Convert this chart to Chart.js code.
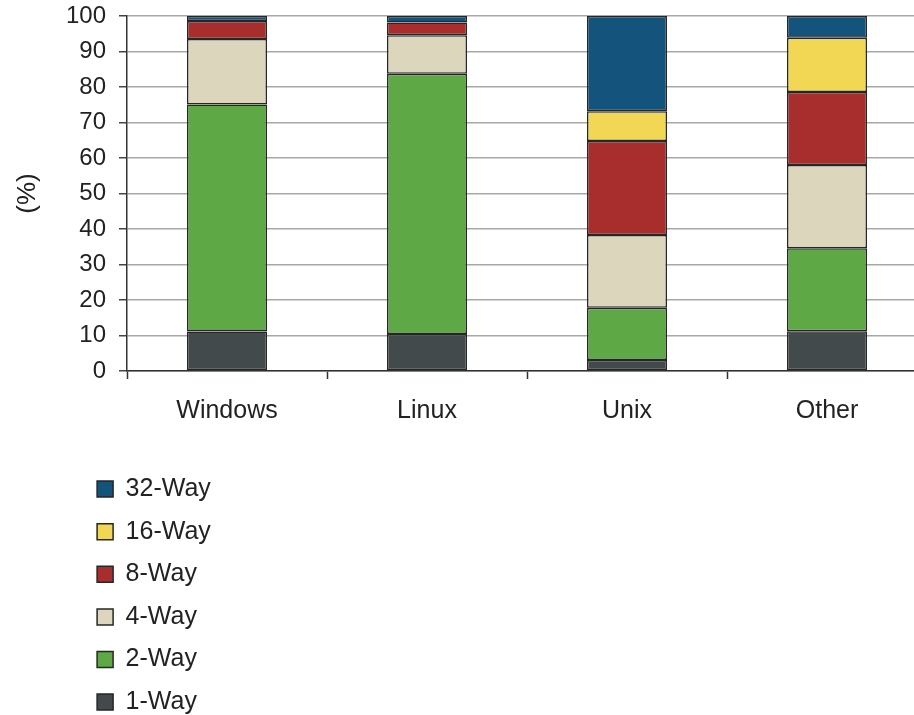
<!DOCTYPE html>
<html>
<head>
<meta charset="utf-8">
<script src="https://cdn.jsdelivr.net/npm/chart.js@4"></script>
<style>
  html, body { margin: 0; padding: 0; background: #fff; overflow: hidden; }
  #wrap { width: 914px; height: 715px; overflow: hidden; position: relative; }
  #mainChart { position: absolute; left: 0; top: 0; }
  #legendChart { position: absolute; left: 0; top: 450px; }
</style>
</head>
<body>
<div id="wrap">
  <canvas id="mainChart" width="940" height="450"></canvas>
  <canvas id="legendChart" width="914" height="290"></canvas>
</div>
<script>
// categories and series (% share)
var categories = ["Windows", "Linux", "Unix", "Other"];
var oneWay = [11.1, 10.4, 3.1, 11.2];
var twoWay = [64.0, 73.3, 14.7, 23.4];
var fourWay = [18.4, 10.9, 20.5, 23.4];
var eightWay = [5.1, 3.6, 26.5, 20.6];
var sixteenWay = [0, 0, 8.4, 15.3];
var thirtyTwoWay = [1.4, 1.8, 26.8, 6.1];
var seriesNames = ["1-Way", "2-Way", "4-Way", "8-Way", "16-Way", "32-Way"];
var yTicks = [0, 10, 20, 30, 40, 50, 60, 70, 80, 90, 100];

var seriesData = [oneWay, twoWay, fourWay, eightWay, sixteenWay, thirtyTwoWay];
var seriesColors = ['#434a4c', '#5ea846', '#dcd6bc', '#a82d2d', '#f2d754', '#13537c'];

Chart.defaults.font.family = "'Liberation Sans', Arial, sans-serif";
Chart.defaults.color = '#222';

function makeDatasets(withData) {
    return seriesNames.map(function (name, i) {
        return {
            label: name,
            data: withData ? seriesData[i] : [],
            backgroundColor: seriesColors[i],
            borderColor: '#262626',
            borderWidth: 1.5,
            borderSkipped: false,
            barPercentage: 0.4,
            categoryPercentage: 1.0
        };
    });
}

var mainChart = document.getElementById('mainChart');

new Chart(mainChart, {
    type: 'bar',
    data: {
        labels: categories,
        datasets: makeDatasets(true)
    },
    options: {
        responsive: false,
        animation: false,
        layout: { padding: { left: 0, top: 16, right: 13, bottom: 0 } },
        plugins: {
            legend: { display: false },
            tooltip: { enabled: false }
        },
        scales: {
            x: {
                stacked: true,
                offset: true,
                grid: {
                    display: true,
                    offset: true,
                    drawOnChartArea: false,
                    drawTicks: true,
                    tickLength: 8,
                    tickColor: '#333',
                    tickWidth: 1.5
                },
                border: { display: true, color: '#333', width: 1.5 },
                ticks: { font: { size: 25 }, color: '#222', padding: 17 },
                afterFit: function (scale) { scale.height = 79; }
            },
            y: {
                stacked: true,
                min: 0,
                max: 100,
                afterBuildTicks: function (scale) {
                    scale.ticks = yTicks.map(function (v) { return { value: v }; });
                },
                grid: {
                    color: '#a8a8a8',
                    lineWidth: 1.5,
                    tickLength: 8,
                    tickColor: '#444',
                    tickWidth: 1.5
                },
                border: { display: true, color: '#333', width: 1.5 },
                ticks: { font: { size: 24 }, color: '#222', padding: 13 },
                title: {
                    display: true,
                    text: '(%)',
                    font: { size: 26 },
                    color: '#222',
                    padding: { top: 12, bottom: 0 }
                },
                afterFit: function (scale) {
                    scale.width = 127;
                    scale.paddingTop = 0;
                }
            }
        }
    }
});

var legendChart = document.getElementById('legendChart');

new Chart(legendChart, {
    type: 'bar',
    data: {
        labels: [],
        datasets: makeDatasets(false)
    },
    options: {
        responsive: false,
        animation: false,
        layout: { padding: { left: 79.5, top: 9, right: 0, bottom: 0 } },
        plugins: {
            legend: {
                position: 'left',
                align: 'start',
                reverse: true,
                labels: {
                    font: { size: 25 },
                    color: '#222',
                    boxWidth: 16,
                    boxHeight: 16,
                    padding: 17.6
                }
            },
            tooltip: { enabled: false }
        },
        scales: {
            x: { display: false },
            y: { display: false }
        }
    }
});
</script>
</body>
</html>
